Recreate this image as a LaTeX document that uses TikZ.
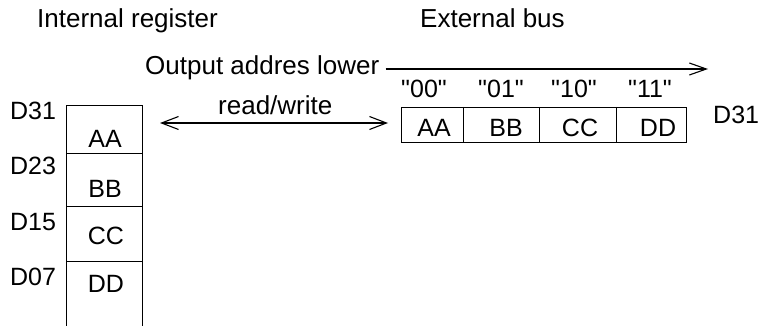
\documentclass[tikz,border=0pt]{standalone}
\usepackage{fontspec}
\setmainfont{Liberation Sans}[Ligatures=TeXOff]
\usetikzlibrary{arrows.meta}
\begin{document}
\begin{tikzpicture}[x=1pt,y=-1pt,
  head/.style={inner sep=0pt,anchor=base west,font=\fontsize{26}{30}\selectfont},
  lbl/.style={inner sep=0pt,anchor=base west,font=\fontsize{25}{29}\selectfont},
  cell/.style={inner sep=0pt,anchor=base,font=\fontsize{25}{29}\selectfont},
  bx/.style={draw,line width=0.9pt},
  barb/.style={line width=1.1pt,-{Straight Barb[length=17pt,width=12pt]}},
  dbarb/.style={line width=1.1pt,{Straight Barb[length=17pt,width=13pt]}-{Straight Barb[length=17pt,width=13pt]}}
]
\useasboundingbox (0,0) rectangle (761,326);
% headers
\node[head] (ir) at (37,28) {Internal register};
\node[head] (eb) at (420,28) {External bus};
\node[head] (oal) at (145,75) {Output addres lower};
\coordinate (oalend) at (708,69);
\draw[barb] (oal.east |- oalend) ++(6,0) -- (oalend);
% register
\draw[bx] (66,326) -- (66,105) -- (142,105) -- (142,326);
\draw[bx] (66,153) -- (142,153);
\draw[bx] (66,206) -- (142,206);
\draw[bx] (66,261) -- (142,261);
\node[lbl] (d31) at (10,120) {D31};
\node[lbl] (d23) at (10,175) {D23};
\node[lbl] (d15) at (10,230) {D15};
\node[lbl] (d07) at (10,285) {D07};
\node[cell] (raa) at (105,148) {AA};
\node[cell] (rbb) at (105,197) {BB};
\node[cell] (rcc) at (106,244) {CC};
\node[cell] (rdd) at (106,292) {DD};
% read/write
\node[lbl,font=\fontsize{26}{30}\selectfont] (rw) at (218,115) {read/write};
\coordinate (rwl) at (160,123);
\coordinate (rwr) at (388,123);
\draw[dbarb] (rwl) -- (rwr);
% bus
\draw[bx] (401,107) rectangle (686,142);
\draw[bx] (463,107) -- (463,142);
\draw[bx] (539,107) -- (539,142);
\draw[bx] (616,107) -- (616,142);
\node[cell] (b00) at (424,98) {"00"};
\node[cell] (b01) at (501,98) {"01"};
\node[cell] (b10) at (574,98) {"10"};
\node[cell] (b11) at (650,98) {"11"};
\node[cell] (baa) at (434,137) {AA};
\node[cell] (bbb) at (506,137) {BB};
\node[cell] (bcc) at (580,137) {CC};
\node[cell] (bdd) at (658,137) {DD};
\node[lbl] (d31r) at (713,124) {D31};
\end{tikzpicture}
\end{document}
